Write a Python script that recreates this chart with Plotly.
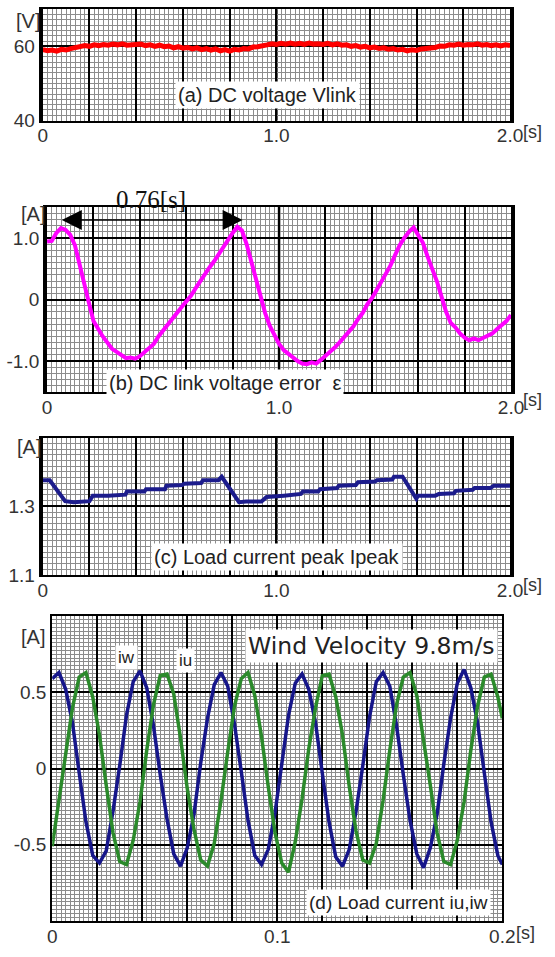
import plotly.graph_objects as go

# ---------------- data ----------------
t_ab = [round(0.02 * k, 2) for k in range(101)]

vlink = [59.1, 58.8, 59.0, 58.7, 59.2, 59.0, 59.4, 59.6, 59.9, 60.2,
         60.0, 60.4, 60.2, 60.5, 60.3, 60.6, 60.4, 60.7, 60.3, 60.5,
         60.4, 60.6, 60.2, 60.4, 60.0, 60.3, 59.9, 60.1, 59.6, 59.9,
         59.5, 59.7, 59.3, 59.6, 59.1, 59.4, 59.0, 59.3, 58.8, 59.1,
         58.7, 59.2, 59.0, 59.4, 59.3, 59.8, 59.9, 60.3, 60.4, 60.7,
         60.5, 60.8, 60.6, 60.9, 60.6, 60.8, 60.5, 60.9, 60.6, 60.7,
         60.5, 60.8, 60.4, 60.7, 60.3, 60.4, 60.0, 60.2, 59.8, 60.0,
         59.6, 59.8, 59.4, 59.6, 59.2, 59.4, 59.0, 59.2, 58.8, 59.1,
         58.9, 59.3, 59.4, 59.8, 59.7, 60.1, 60.0, 60.4, 60.3, 60.6,
         60.3, 60.5, 60.4, 60.7, 60.3, 60.5, 60.2, 60.4, 60.1, 60.4,
         60.2]

eps = [0.94, 0.95, 1.08, 1.16, 1.13, 1.05, 0.88, 0.55, 0.22, -0.05,
       -0.35, -0.48, -0.60, -0.70, -0.80, -0.85, -0.90, -0.95, -0.94, -0.96,
       -0.92, -0.85, -0.80, -0.72, -0.60, -0.50, -0.40, -0.30, -0.22, -0.12,
       -0.03, 0.06, 0.18, 0.30, 0.42, 0.52, 0.62, 0.74, 0.85, 0.98,
       1.08, 1.18, 1.12, 0.90, 0.62, 0.40, 0.08, -0.22, -0.43, -0.58,
       -0.72, -0.82, -0.88, -0.95, -1.00, -1.04, -1.05, -1.02, -1.04, -0.98,
       -0.92, -0.86, -0.78, -0.70, -0.62, -0.52, -0.44, -0.32, -0.22, -0.08,
       0.02, 0.15, 0.28, 0.40, 0.55, 0.72, 0.88, 1.00, 1.10, 1.17,
       1.05, 0.92, 0.70, 0.52, 0.30, 0.05, -0.20, -0.38, -0.45, -0.55,
       -0.62, -0.66, -0.63, -0.66, -0.62, -0.58, -0.55, -0.48, -0.42, -0.35,
       -0.25]

c_t = [0.000, 0.030, 0.096, 0.133, 0.200, 0.214, 0.280, 0.354, 0.360, 0.435,
       0.442, 0.523, 0.530, 0.597, 0.605, 0.678, 0.686, 0.752, 0.766, 0.840,
       0.870, 0.936, 0.958, 1.017, 1.032, 1.105, 1.113, 1.179, 1.187, 1.260,
       1.267, 1.340, 1.349, 1.422, 1.430, 1.496, 1.503, 1.540, 1.599, 1.606,
       1.680, 1.695, 1.760, 1.768, 1.840, 1.848, 1.916, 1.930, 2.000]
ipeak = [1.376, 1.376, 1.315, 1.312, 1.315, 1.331, 1.331, 1.334, 1.343, 1.343,
         1.350, 1.350, 1.360, 1.362, 1.366, 1.368, 1.376, 1.376, 1.386, 1.312,
         1.314, 1.314, 1.327, 1.328, 1.331, 1.336, 1.343, 1.343, 1.350, 1.353,
         1.360, 1.362, 1.370, 1.372, 1.376, 1.378, 1.386, 1.386, 1.322, 1.331,
         1.331, 1.336, 1.338, 1.345, 1.348, 1.353, 1.353, 1.360, 1.360]

t_d = [round(0.003 * k, 3) for k in range(67)] + [0.2]
iw = [0.59, 0.63, 0.52, 0.30, -0.03, -0.35, -0.57, -0.62, -0.54, -0.28, 0.02, 0.35,
      0.57, 0.64, 0.53, 0.28, -0.04, -0.33, -0.56, -0.64, -0.52, -0.30, 0.04, 0.33,
      0.55, 0.63, 0.54, 0.29, -0.02, -0.34, -0.57, -0.63, -0.53, -0.29, 0.03, 0.35,
      0.56, 0.62, 0.52, 0.30, -0.03, -0.35, -0.58, -0.64, -0.53, -0.28, 0.02, 0.34,
      0.57, 0.63, 0.54, 0.28, -0.04, -0.34, -0.56, -0.65, -0.52, -0.30, 0.03, 0.33,
      0.56, 0.65, 0.53, 0.30, -0.03, -0.35, -0.57,
      -0.63]
iu = [-0.51, -0.20, 0.13, 0.40, 0.60, 0.63, 0.47, 0.22, -0.11, -0.42, -0.61, -0.63,
      -0.47, -0.22, 0.12, 0.42, 0.61, 0.62, 0.49, 0.20, -0.13, -0.40, -0.60, -0.64,
      -0.49, -0.21, 0.11, 0.41, 0.59, 0.63, 0.48, 0.21, -0.12, -0.42, -0.62, -0.68,
      -0.48, -0.20, 0.13, 0.40, 0.61, 0.62, 0.47, 0.22, -0.12, -0.41, -0.60, -0.62,
      -0.49, -0.21, 0.12, 0.42, 0.60, 0.63, 0.48, 0.20, -0.11, -0.42, -0.61, -0.63,
      -0.47, -0.22, 0.12, 0.41, 0.60, 0.62, 0.47,
      0.33]

# tick definitions
major_s = [round(0.2 * k, 1) for k in range(11)]
labels_s = {0.0: "0", 1.0: "1.0", 2.0: "2.0"}
major_d = [round(0.02 * k, 2) for k in range(11)]
labels_d = {0.0: "0", 0.1: "0.1", 0.2: "0.2"}
period_start, period_end, period_level = 0.057, 0.843, 1.29

# ---------------- figure ----------------
FONT = "Liberation Sans, Arial, sans-serif"
W, H = 555, 957
MINOR_C = "#8c8c8c"

fig = go.Figure()
fig.add_trace(go.Scatter(x=t_ab, y=vlink, mode="lines",
                         line=dict(color="#ff0000", width=5), xaxis="x", yaxis="y"))
fig.add_trace(go.Scatter(x=t_ab, y=eps, mode="lines",
                         line=dict(color="#ff00ff", width=4), xaxis="x2", yaxis="y2"))
fig.add_trace(go.Scatter(x=c_t, y=ipeak, mode="lines",
                         line=dict(color="#1c1c8c", width=4), xaxis="x3", yaxis="y3"))
fig.add_trace(go.Scatter(x=t_d, y=iw, mode="lines",
                         line=dict(color="#16168a", width=3.5), xaxis="x4", yaxis="y4"))
fig.add_trace(go.Scatter(x=t_d, y=iu, mode="lines",
                         line=dict(color="#2b8a2b", width=3.5), xaxis="x4", yaxis="y4"))


def px_x(px):
    return px / W


def px_y(py):
    return 1 - py / H


def xax(domain, anchor, rng, majors, labels, minor_dt, lw):
    return dict(domain=domain, anchor=anchor, range=rng, tickmode="array",
                tickvals=majors, ticktext=[labels.get(v, "") for v in majors],
                showgrid=True, gridcolor="#000000", gridwidth=1.5,
                minor=dict(dtick=minor_dt, tick0=0, showgrid=True,
                           gridcolor=MINOR_C, gridwidth=1, ticks=""),
                ticks="", zeroline=False, showline=True, mirror=True,
                linecolor="#000000", linewidth=lw, ticklabelstandoff=-3,
                tickfont=dict(family=FONT, size=19, color="#333333"))


def yax(domain, anchor, rng, vals, texts, minor_dt, tick0, lw):
    return dict(domain=domain, anchor=anchor, range=rng, tickmode="array",
                tickvals=vals, ticktext=texts,
                showgrid=True, gridcolor="#000000", gridwidth=1.5,
                minor=dict(dtick=minor_dt, tick0=tick0, showgrid=True,
                           gridcolor=MINOR_C, gridwidth=1, ticks=""),
                ticks="", zeroline=False, showline=True, mirror=True,
                linecolor="#000000", linewidth=lw,
                tickfont=dict(family=FONT, size=19, color="#333333"))


fig.update_layout(
    width=W, height=H, autosize=False,
    margin=dict(l=0, r=0, t=0, b=0),
    paper_bgcolor="white", plot_bgcolor="white",
    showlegend=False,
    xaxis=xax([px_x(39), px_x(522)], "y", [0, 2], major_s, labels_s, 0.02, 2),
    yaxis=yax([px_y(122), px_y(9.3)], "x", [40, 70], [40, 60], ["40", "60"], 30 / 21, 40, 4),
    xaxis2=xax([px_x(43.5), px_x(523)], "y2", [0, 2], major_s, labels_s, 0.02, 2),
    yaxis2=yax([px_y(396.5), px_y(209.5)], "x2", [-1.5, 1.5], [-1, 0, 1], ["-1.0", "0", "1.0"], 0.1, 0, 4),
    xaxis3=xax([px_x(39), px_x(522)], "y3", [0, 2], major_s, labels_s, 0.02, 2),
    yaxis3=yax([px_y(581.7), px_y(442.7)], "x3", [1.1, 1.5], [1.1, 1.3], ["1.1", "1.3"], 1 / 60, 1.1, 4),
    xaxis4=xax([px_x(48.8), px_x(514)], "y4", [0, 0.2], major_d, labels_d, 0.002, 2),
    yaxis4=yax([px_y(931.7), px_y(623.3)], "x4", [-1, 1], [-0.5, 0, 0.5], ["-0.5", "0", "0.5"], 0.025, 0, 2),
)

# thicker centre lines at 1.0 s
for xr, yr in (("x", "y"), ("x2", "y2"), ("x3", "y3")):
    fig.add_shape(type="line", xref=xr, yref=yr + " domain", x0=1.0, x1=1.0, y0=0, y1=1,
                  line=dict(color="#000000", width=2.5), layer="below")

ann = []


def text_at(text, px, py, size=20, family=FONT, box=False, color="#222222"):
    d = dict(text=text, x=px_x(px), y=px_y(py), xref="paper", yref="paper",
             xanchor="center", yanchor="middle", showarrow=False,
             font=dict(family=family, size=size, color=color))
    if box:
        d.update(bgcolor="white", borderpad=2)
    ann.append(d)


text_at("(a) DC voltage Vlink", 271.5, 96, box=True)
text_at("(b) DC link voltage error  ε", 227, 387, box=True)
text_at("(c) Load current peak Ipeak", 281, 563, box=True)
text_at("(d) Load current iu,iw", 407, 913, size=19, box=True)
text_at("Wind Velocity 9.8m/s", 379, 654, size=23.5, family="DejaVu Sans, sans-serif", box=True)
text_at("iw", 126, 665, size=17, box=True)
text_at("iu", 187, 668, size=17, box=True)

for txt, px, py in (("[V]", 24, 21), ("[A]", 28.5, 216), ("[A]", 24.5, 452), ("[A]", 28.5, 644)):
    text_at(txt, px, py, color="#333333")
for px, py in ((545.5, 134), (545.5, 405), (545.5, 592), (538, 944)):
    text_at("[s]", px, py, size=18, color="#333333")

text_at("0.76[s]", 151, 201.5, size=25,
        family="Liberation Serif, Times New Roman, serif", color="#111111")

# double-headed arrow between the two peaks
ann.append(dict(text="", x=period_end, y=period_level, xref="x2", yref="y2",
                ax=period_start, ay=period_level, axref="x2", ayref="y2",
                showarrow=True, arrowside="end+start", arrowhead=2, startarrowhead=2,
                arrowsize=2.5, startarrowsize=2.5, arrowwidth=1.6, arrowcolor="#000000",
                standoff=0, startstandoff=0))

fig.update_layout(annotations=ann)
fig.write_html("out.html", config={"displayModeBar": False},
               post_script="document.body.style.margin='0';document.body.style.overflow='hidden';")
